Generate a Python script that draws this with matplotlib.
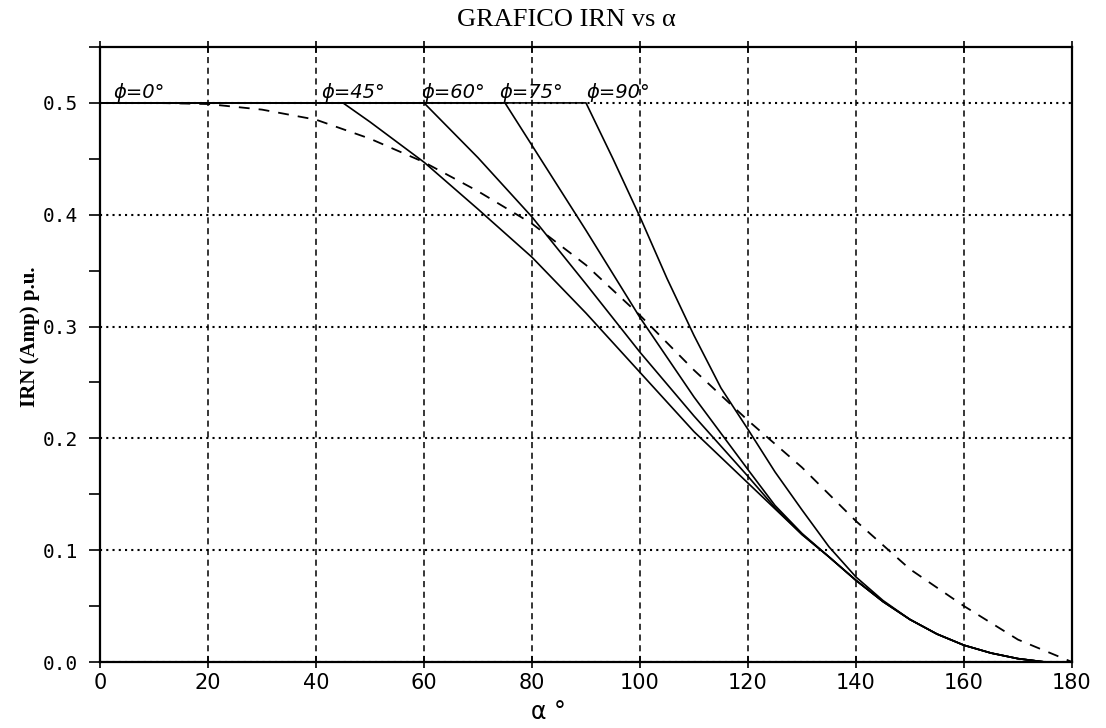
import numpy as np
import matplotlib.pyplot as plt
from matplotlib.ticker import MultipleLocator

# curva punteada (phi = 0)
alpha_dash = [0, 10, 20, 30, 40, 50, 60, 70, 80, 90, 100, 110, 120, 130, 140, 150, 160, 170, 180]
irn_dash = [0.5, 0.5, 0.499, 0.494, 0.485, 0.468, 0.447, 0.421, 0.392, 0.355, 0.31, 0.261,
            0.216, 0.174, 0.126, 0.083, 0.05, 0.02, 0.0]

# curvas solidas para cada phi
alpha_45 = [0, 45, 50, 60, 70, 80, 90, 100, 110, 120, 130, 135, 140, 145, 150, 155, 160, 165, 170, 175]
irn_45 = [0.5, 0.5, 0.483, 0.447, 0.405, 0.362, 0.312, 0.259, 0.206, 0.16, 0.114, 0.094,
          0.073, 0.054, 0.038, 0.025, 0.015, 0.008, 0.003, 0.0]

alpha_60 = [0, 60, 70, 80, 90, 100, 110, 120, 125, 130, 135, 140, 145, 150, 155, 160, 165, 170, 175]
irn_60 = [0.5, 0.5, 0.451, 0.398, 0.338, 0.277, 0.22, 0.166, 0.138, 0.114, 0.094,
          0.073, 0.054, 0.038, 0.025, 0.015, 0.008, 0.003, 0.0]

alpha_75 = [0, 75, 80, 90, 100, 110, 120, 125, 130, 135, 140, 145, 150, 155, 160, 165, 170, 175]
irn_75 = [0.5, 0.5, 0.462, 0.386, 0.308, 0.237, 0.172, 0.14, 0.115, 0.094,
          0.073, 0.054, 0.038, 0.025, 0.015, 0.008, 0.003, 0.0]

alpha_90 = [0, 90, 95, 100, 105, 110, 115, 120, 125, 130, 135, 140, 145, 150, 155, 160, 165, 170, 175]
irn_90 = [0.5, 0.5, 0.45, 0.398, 0.343, 0.292, 0.245, 0.208, 0.17, 0.136, 0.103,
          0.076, 0.055, 0.038, 0.025, 0.015, 0.008, 0.003, 0.0]

# etiquetas de phi (posicion alfa donde empieza el texto)
phi_labels = ["ϕ=0°", "ϕ=45°", "ϕ=60°", "ϕ=75°", "ϕ=90°"]
phi_label_x = [2.5, 41, 59.5, 74, 90]

x_ticks = [0, 20, 40, 60, 80, 100, 120, 140, 160, 180]
y_ticks = [0.0, 0.1, 0.2, 0.3, 0.4, 0.5]
y_ticklabels = ["0.0", "0.1", "0.2", "0.3", "0.4", "0.5"]

fig = plt.figure(figsize=(11.06, 7.28), dpi=100)
ax = fig.add_axes([100 / 1106, 1 - 662 / 728, 972 / 1106, 615 / 728])

# curvas
ax.plot(alpha_dash, irn_dash, color='black', lw=1.3, linestyle=(0, (6, 5)))
for a, v in [(alpha_45, irn_45), (alpha_60, irn_60), (alpha_75, irn_75), (alpha_90, irn_90)]:
    ax.plot(a, v, color='black', lw=1.2)

for txt, xpos in zip(phi_labels, phi_label_x):
    ax.text(xpos, 0.501, txt, fontsize=14, va='bottom', ha='left', family='DejaVu Sans',
            style='italic')

ax.set_xlim(0, 180)
ax.set_ylim(0, 0.55)
ax.set_xticks(x_ticks)
ax.set_yticks(y_ticks)
ax.set_yticklabels(y_ticklabels, family='DejaVu Sans Mono', fontsize=14)
for lab in ax.get_xticklabels():
    lab.set_family('DejaVu Sans')
    lab.set_fontsize(15)
ax.yaxis.set_minor_locator(MultipleLocator(0.05))

# rejilla: vertical a trazos, horizontal punteada
ax.xaxis.grid(True, color='black', lw=1.1, linestyle=(0, (4, 3)))
ax.yaxis.grid(True, color='black', lw=1.5, linestyle=(0, (1, 2)))

ax.xaxis.set_ticks_position('both')
ax.tick_params(axis='x', which='major', direction='inout', length=8, width=1.2, pad=4)
ax.tick_params(axis='y', which='both', direction='out', length=8, width=1.2, pad=8)
for s in ax.spines.values():
    s.set_linewidth(1.6)

fig.text(0.512, 0.972, "GRAFICO IRN vs α", ha='center', va='center',
         fontsize=19, family='Liberation Serif')
fig.text(30 / 1106, 1 - 337 / 728, "IRN (Amp) p.u.", rotation=90, ha='center', va='center',
         fontsize=15, family='Liberation Serif', weight='bold')
fig.text(548 / 1106, 1 - 712 / 728, "α °", ha='center', va='center', fontsize=17,
         family='DejaVu Sans')

fig.savefig("out.png", dpi=100)
